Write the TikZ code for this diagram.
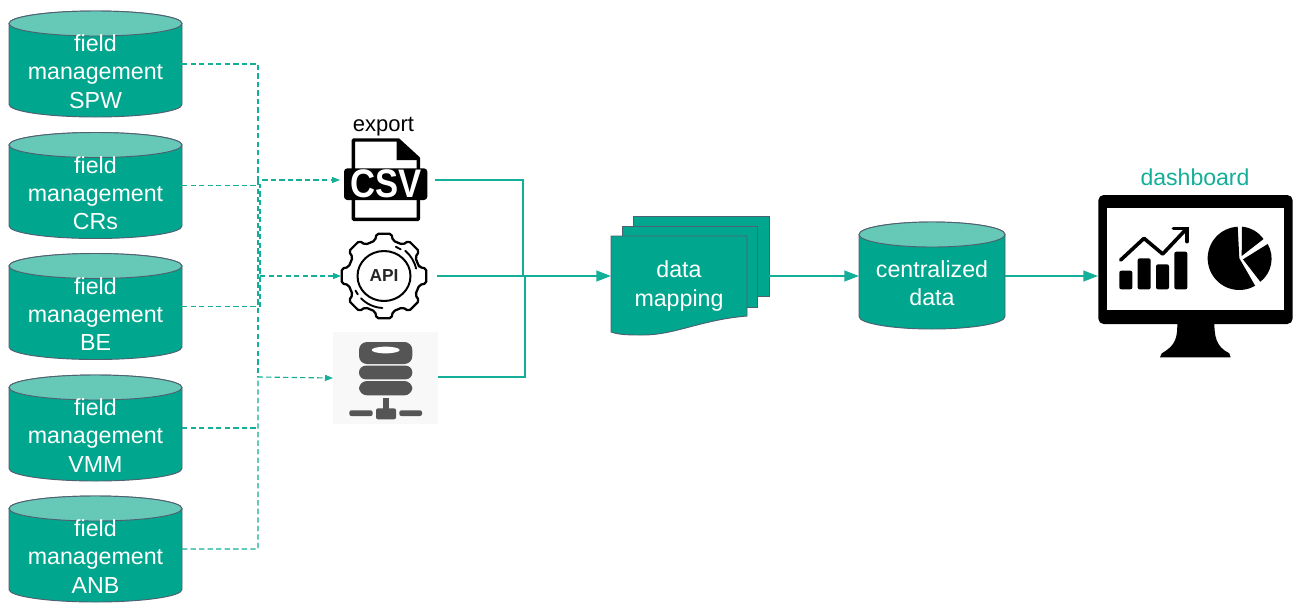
\documentclass[tikz,border=0pt]{standalone}
\usepackage{fontspec}
\setmainfont{Liberation Sans}
\usetikzlibrary{arrows.meta}
\definecolor{teal1}{HTML}{00A78E}
\definecolor{tealtop}{HTML}{66C9B7}
\definecolor{tealline}{HTML}{14AF98}
\definecolor{slate}{HTML}{4F6070}
\definecolor{srv}{HTML}{555555}
\tikzset{
  basefont/.style={font=\fontsize{17.4}{21.2}\selectfont},
  lbl/.style={inner sep=0pt, outer sep=0pt, text=white, align=center, basefont},
  sheet/.style={draw=slate, fill=teal1, line width=.7pt},
  ghost/.style={inner sep=0pt, outer sep=0pt},
  dashconn/.style={draw=tealline, line width=.85pt, dash pattern=on 4pt off 2.4pt},
  thinhead/.style={-{Triangle[length=6pt,width=4.5pt,fill=tealline]}},
  solidconn/.style={draw=tealline, line width=1.7pt},
  bighead/.style={-{Triangle[length=11pt,width=8pt,fill=tealline]}},
}
% #1 name, #2 center x, #3 top y, #4 half width, #5 height, #6 text
\newcommand{\dbdrum}[6]{
  \pgfmathsetmacro{\drumb}{#3+#5-12.5}
  \pgfmathsetmacro{\drumt}{#3+12.5}
  \pgfmathsetmacro{\drumm}{#3+#5/2}
  \filldraw[sheet] (#2-#4,\drumt) -- (#2-#4,\drumb) arc [start angle=180, end angle=360, x radius=#4, y radius=-12.5]
     -- (#2+#4,\drumt) arc [start angle=0, end angle=180, x radius=#4, y radius=-12.5] -- cycle;
  \filldraw[draw=slate, fill=tealtop, line width=.7pt] (#2,\drumt) ellipse [x radius=#4, y radius=12.5];
  \node[ghost, minimum width=#4*1.5pt, minimum height=#5*.75pt] (#1) at (#2,\drumm) {};
  \node[lbl] (#1txt) at (#2,\drumm+7.5) {#6};
}
\begin{document}
\begin{tikzpicture}[x=.75pt,y=-.75pt]
\useasboundingbox (0,0) rectangle (1295,608);
\fill[white] (0,0) rectangle (1295,608);

% source cylinders
\dbdrum{spw}{95.5}{11}{86.5}{106}{field\\management\\SPW}
\dbdrum{crs}{95.5}{132.5}{86.5}{106}{field\\management\\CRs}
\dbdrum{be}{95.5}{253.5}{86.5}{106}{field\\management\\BE}
\dbdrum{vmm}{95.5}{375}{86.5}{106}{field\\management\\VMM}
\dbdrum{anb}{95.5}{496}{86.5}{106}{field\\management\\ANB}

% icon holders
\node[ghost, minimum width=71.25pt, minimum height=60pt] (csv) at (387.5,180) {};
\node[ghost, minimum width=72pt, minimum height=70pt] (api) at (389,276) {};
\node[ghost, fill={rgb,255:red,248;green,248;blue,248}, minimum width=78.75pt, minimum height=69pt] (server) at (385.5,378) {};

% export label and csv icon
\node[ghost, font=\fontsize{16.5}{20}\selectfont] (exportlbl) at (383.5,127) {export};
\begin{scope}[shift={(335,110)},x=.25pt,y=-.25pt]
  \draw[line width=2.6pt, line join=round, fill=white] (55,90) -- (190,90) -- (250,145) -- (250,328) -- (55,328) -- cycle;
  \fill[black] (185,90) -- (250,145) -- (250,150) -- (185,150) -- cycle;
  \fill[black, rounded corners=2.5pt] (27,175) rectangle (277,270);
  \node[ghost, text=white, font=\fontsize{26}{26}\bfseries\selectfont] (csvtxt) at (152,222) {\scalebox{1}[1.15]{CSV}};
\end{scope}

% api gear
\begin{scope}[shift={(384,276)}]
  \draw[line width=1.7pt, line join=round, rounded corners=1.5pt]
    (-18:36)
    \foreach \a in {0,45,...,315} { -- (\a-14:36.5) -- (\a-10:43) -- (\a+10:43) -- (\a+14:36.5) } -- cycle;
  \draw[line width=1.5pt] (0,0) ellipse [x radius=26.5, y radius=25];
  \draw[line width=1.4pt, line cap=round] (-50:33) arc [start angle=-50, end angle=-13, radius=33];
  \draw[line width=1.4pt, line cap=round] (-68:31.5) arc [start angle=-68, end angle=-58, radius=31.5];
  \draw[line width=1.4pt, line cap=round] (136:32) arc [start angle=136, end angle=93, radius=32];
  \draw[line width=1.4pt, line cap=round] (153:32) arc [start angle=153, end angle=145, radius=32];
  \node[ghost, text=black!85, font=\fontsize{13}{13}\bfseries\selectfont] (apitxt) at (0,0) {API};
\end{scope}

% server icon
\begin{scope}[shift={(320,100)},x=.25pt,y=-.25pt]
  \fill[srv, rounded corners=6pt] (117,726) rectangle (277,792);
  \fill[white] (197,750) ellipse [x radius=42, y radius=10];
  \fill[srv, rounded corners=5pt] (117,797) rectangle (277,838);
  \fill[srv, rounded corners=6pt] (117,843) rectangle (277,886);
  \fill[srv] (188,895) rectangle (208,930);
  \fill[srv, rounded corners=1.5pt] (168,925) rectangle (228,958);
  \fill[srv, rounded corners=1.5pt] (88,931) rectangle (158,948);
  \fill[srv, rounded corners=1.5pt] (238,931) rectangle (306,948);
\end{scope}

% data mapping stack
\node[ghost, minimum width=118.5pt, minimum height=90pt] (stack) at (690,276) {};
\node[sheet, ghost, minimum width=102pt, minimum height=60pt] (sheetback) at (701,256) {};
\node[sheet, ghost, minimum width=101.25pt, minimum height=60.75pt] (sheetmid) at (689.5,266.5) {};
\filldraw[sheet] (611,236) -- (747,236) -- (747,316)
  .. controls (700,320) and (675,335) .. (643,335)
  .. controls (630,335) and (620,335) .. (611,332) -- cycle;
\node[lbl] (maptxt) at (679,286) {data\\mapping};

% centralized
\dbdrum{central}{932}{222}{73}{107}{centralized\\data}

% dashboard
\node[ghost, text=tealline, font=\fontsize{17.3}{20}\selectfont] (dashlbl) at (1195,177) {dashboard};
\node[ghost, minimum width=146.25pt, minimum height=96.75pt] (dash) at (1195.5,276) {};
\begin{scope}[shift={(1080,150)},x=.25pt,y=-.25pt]
  \fill[black, rounded corners=4pt] (55,135) rectangle (638,522);
  \fill[white] (82,175) rectangle (611,480);
  \fill[black, line join=round] (292,515) .. controls (292,560) and (290,585) .. (245,610) -- (240,622) -- (452,622) -- (448,610) .. controls (408,590) and (403,560) .. (403,515) -- cycle;
  \foreach \l/\r/\t in {118/157/362,173/212/325,228/267/343,283/322/305}
    \fill[black, rounded corners=1.5pt] (\l,\t) rectangle (\r,418);
  \draw[line width=2.7pt, line cap=round, line join=round] (122,330) -- (192,265) -- (248,312) -- (318,238);
  \draw[line width=2.7pt, line cap=round, line join=miter] (280,235) -- (321,235) -- (321,275);
  \fill[black] (478,325) -- ++(-93:95)
     arc [start angle=-93, end angle=-300, radius=95] -- cycle;
  \fill[black] (485,318) -- (486,230) arc [start angle=-85, end angle=-35, radius=88] -- cycle;
  \fill[black] (489,328) -- (563,282) arc [start angle=-30, end angle=52, radius=88] -- cycle;
\end{scope}

% dashed connectors
\coordinate (busa) at (258,180);
\coordinate (busb) at (260,184);
\coordinate (busc) at (260,276);
\coordinate (busd) at (258,377);
\draw[dashconn, thinhead] (spw.east) -| (busa) -- (csv.west);
\draw[dashconn] (crs.east) -- (crs.east -| busb);
\draw[dashconn] (be.east) -| (busb);
\draw[dashconn, thinhead] (busc) -- (api.west);
\draw[dashconn] (busa) -- (busd);
\draw[dashconn] (vmm.east) -- (vmm.east -| busd);
\draw[dashconn, thinhead] (anb.east) -| (busd) -- (server.west);

% solid connectors
\coordinate (joina) at (523,180);
\coordinate (joinb) at (525,377);
\coordinate (joinc) at (525,276);
\draw[solidconn] (csv.east) -- (joina) |- (joinc);
\draw[solidconn] (server.east |- busd) -- (joinb) -- (joinc);
\draw[solidconn, bighead] (api.east) -- (stack.west);
\draw[solidconn, bighead] (stack.east) -- (stack.east -| central.west);
\draw[solidconn, bighead] (central.east |- dash.west) -- (dash.west);
\end{tikzpicture}
\end{document}
